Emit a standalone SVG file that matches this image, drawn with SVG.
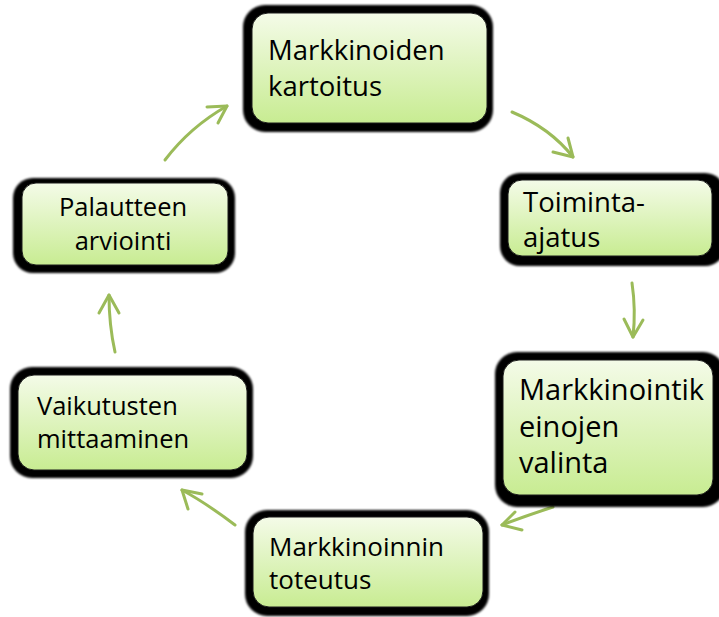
<svg xmlns="http://www.w3.org/2000/svg" width="719" height="617" viewBox="0 0 719 617">
<defs>
<linearGradient id="g" x1="0" y1="0" x2="0" y2="1">
<stop offset="0" stop-color="#f4fbe8"/>
<stop offset="1" stop-color="#c8ec92"/>
</linearGradient>
<filter id="blur" x="-10%" y="-10%" width="120%" height="120%">
<feGaussianBlur stdDeviation="1.2"/>
</filter>
</defs>
<style>
.sh{fill:#000;filter:url(#blur)}
.bx{fill:url(#g);stroke:#1a1a1a;stroke-width:1}
.t{font-family:"Open Sans","Noto Sans",sans-serif;fill:#000}
.c{fill:none;stroke:#9bbb59;stroke-width:3;stroke-linecap:round;stroke-linejoin:round}
</style>
<rect width="719" height="617" fill="#fff"/>
<g id="connectors">
<path class="c" d="M165,160 Q190,127 227,106"/>
<path class="c" d="M207,107 L227,106 L218,123"/>
<path class="c" d="M512,112 Q550,128 573,157"/>
<path class="c" d="M553,152 L573,157 L568,138"/>
<path class="c" d="M632,283 Q636,310 633,337"/>
<path class="c" d="M624,319 L633,337 L643,320"/>
<path class="c" d="M553,507 Q525,516 502,525"/>
<path class="c" d="M515,512 L502,525 L522,530"/>
<path class="c" d="M235,525 Q206,503 182,490"/>
<path class="c" d="M202,494 L182,490 L188,509"/>
<path class="c" d="M115,352 Q109,325 109,295"/>
<path class="c" d="M99,313 L109,295 L119,313"/>
</g>
<g id="n1">
<rect class="sh" x="243" y="5" width="250" height="127" rx="22"/>
<rect class="bx" x="252" y="13" width="235" height="110" rx="16"/>
<text class="t" x="268" y="60" font-size="27.5">Markkinoiden</text>
<text class="t" x="268" y="96" font-size="27.5">kartoitus</text>
</g>
<g id="n2">
<rect class="sh" x="500" y="173" width="225" height="93" rx="20"/>
<rect class="bx" x="508" y="180" width="204" height="76" rx="14"/>
<text class="t" x="523" y="212" font-size="27.5">Toiminta-</text>
<text class="t" x="523" y="247" font-size="27.5">ajatus</text>
</g>
<g id="n3">
<rect class="sh" x="495" y="352" width="230" height="155" rx="22"/>
<rect class="bx" x="503" y="360" width="210" height="135" rx="16"/>
<text class="t" x="519" y="400" font-size="29">Markkinointik</text>
<text class="t" x="519" y="437" font-size="29">einojen</text>
<text class="t" x="519" y="473" font-size="29">valinta</text>
</g>
<g id="n4">
<rect class="sh" x="245" y="510" width="244" height="106" rx="22"/>
<rect class="bx" x="253" y="517" width="230" height="90" rx="16"/>
<text class="t" x="269" y="556" font-size="26">Markkinoinnin</text>
<text class="t" x="269" y="589" font-size="26">toteutus</text>
</g>
<g id="n5">
<rect class="sh" x="10" y="367" width="243" height="111" rx="22"/>
<rect class="bx" x="18" y="375" width="229" height="95" rx="16"/>
<text class="t" x="37" y="415" font-size="25.5">Vaikutusten</text>
<text class="t" x="37" y="448" font-size="25.5">mittaaminen</text>
</g>
<g id="n6">
<rect class="sh" x="13" y="178" width="222" height="95" rx="20"/>
<rect class="bx" x="22" y="183" width="206" height="82" rx="14"/>
<text class="t" x="123" y="216" font-size="25.5" text-anchor="middle">Palautteen</text>
<text class="t" x="123" y="250" font-size="25.5" text-anchor="middle">arviointi</text>
</g>
</svg>
